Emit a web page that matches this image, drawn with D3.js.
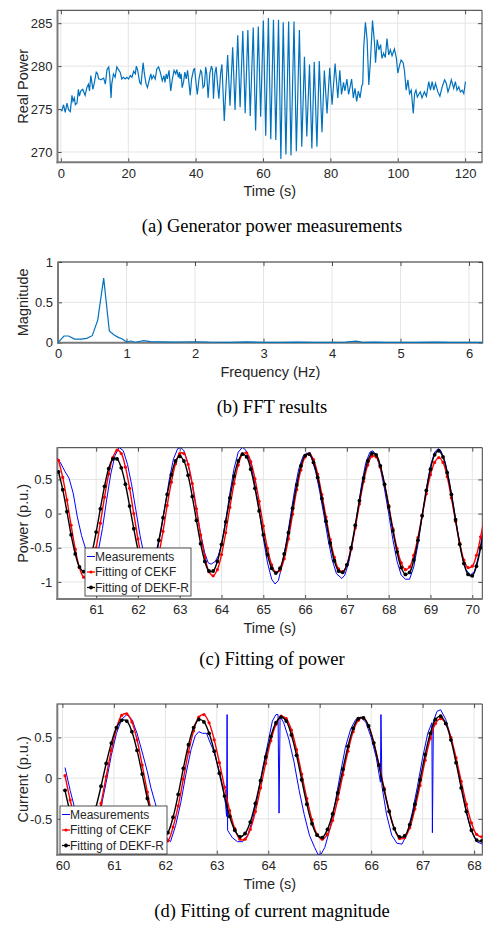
<!DOCTYPE html>
<html>
<head>
<meta charset="utf-8">
<script src="https://cdn.jsdelivr.net/npm/d3@7"></script>
<style>
  body { margin: 0; background: #fff; }
  svg text { font-family: "Liberation Sans", Arial, Helvetica, sans-serif; fill: #262626; }
  svg text.caption { font-family: "Liberation Serif", "Times New Roman", serif; fill: #000; }
</style>
</head>
<body>
<svg id="fig" width="488" height="931"></svg>
<script>
// (a) generator real power, [time s, MW]
const realPower = [
  [0.0,274.9],[0.3,274.8],[0.8,275.5],[1.3,274.6],[1.8,275.7],[2.3,274.9],[2.8,274.7],[3.3,276.6],[3.6,275.9],[4.0,276.3],
  [4.3,275.5],[4.8,275.7],[5.2,277.3],[5.5,276.5],[5.9,277.1],[6.5,277.3],[6.9,276.9],[7.2,276.6],[7.7,277.5],[8.2,277.9],
  [8.5,277.1],[8.9,278.9],[9.2,278.1],[9.5,277.3],[9.9,278.0],[10.5,279.3],[10.9,279.1],[11.2,278.5],[11.5,278.5],[11.9,278.4],
  [12.2,278.5],[12.7,278.6],[13.2,277.9],[13.7,279.6],[14.2,279.9],[14.5,278.9],[14.9,276.3],[15.1,277.9],[15.6,279.1],[16.1,278.7],
  [16.6,279.9],[17.1,279.6],[17.6,279.3],[18.1,278.5],[18.6,278.7],[19.1,278.5],[19.6,278.7],[20.1,278.5],[20.6,278.9],[21.1,278.7],
  [21.6,279.4],[22.1,279.1],[22.4,280.0],[22.8,279.5],[23.4,278.1],[23.8,277.9],[24.4,280.4],[24.8,279.1],[25.3,277.9],[25.7,277.5],
  [26.3,278.5],[26.7,279.1],[27.0,278.5],[27.5,278.9],[28.0,278.5],[28.5,279.7],[29.0,279.9],[29.5,279.3],[30.1,278.3],[30.6,278.9],
  [30.9,278.1],[31.3,279.1],[31.6,278.5],[32.1,279.5],[32.6,277.1],[33.1,278.5],[33.6,279.5],[34.1,279.1],[34.4,279.6],[34.9,278.7],
  [35.2,279.3],[35.4,278.5],[35.7,279.1],[36.0,277.5],[36.4,278.1],[36.8,279.3],[37.2,278.5],[37.6,279.5],[38.0,278.1],[38.4,276.6],
  [38.8,278.5],[39.4,279.6],[39.7,279.7],[40.1,278.1],[40.5,276.7],[41.0,278.5],[41.5,279.5],[41.8,279.3],[42.2,277.5],[42.6,277.7],
  [43.0,279.9],[43.3,279.1],[43.7,276.3],[44.2,279.1],[44.7,280.0],[45.0,279.6],[45.3,276.2],[45.7,279.1],[46.1,279.9],[46.5,277.9],
  [46.9,276.2],[47.4,279.1],[47.8,280.2],[48.5,273.6],[49.5,281.3],[50.2,275.4],[51.0,282.2],[51.7,274.9],[52.5,283.6],[53.2,275.2],
  [54.0,284.1],[54.7,274.5],[55.5,284.2],[56.2,274.2],[57.1,284.5],[57.8,272.5],[58.6,284.6],[59.3,274.1],[60.1,285.3],[60.8,271.9],
  [61.6,285.6],[62.3,271.5],[63.1,285.4],[63.8,271.4],[64.6,285.4],[65.3,269.2],[66.0,285.1],[66.8,269.7],[67.6,285.2],[68.3,269.6],
  [69.2,285.2],[69.9,270.1],[70.8,284.2],[71.5,270.6],[72.3,281.1],[73.0,271.8],[73.8,280.2],[74.5,270.4],[75.2,280.5],[76.0,270.6],
  [76.7,280.6],[77.5,272.3],[78.2,279.5],[79.0,274.5],[79.8,279.8],[80.5,275.5],[81.4,280.3],[82.2,276.3],[82.8,279.5],[83.3,276.7],
  [83.9,278.1],[84.3,277.1],[84.9,278.5],[85.4,276.7],[85.8,277.5],[86.3,278.5],[86.8,276.3],[87.3,277.4],[87.8,275.9],[88.3,277.1],
  [88.8,276.3],[89.3,277.7],[89.6,277.9],[89.9,282.2],[90.4,285.1],[90.9,283.1],[91.4,277.8],[91.9,280.7],[92.5,285.3],[93.1,282.7],
  [93.4,280.4],[93.9,283.1],[94.4,281.9],[94.9,282.5],[95.3,280.9],[95.8,281.5],[96.3,281.0],[96.8,283.2],[97.3,281.3],[97.8,281.9],
  [98.3,281.2],[99.0,282.0],[99.6,280.9],[100.0,279.2],[100.6,280.2],[101.0,280.7],[101.6,280.4],[102.0,279.4],[102.5,277.2],[103.0,278.4],
  [103.5,276.8],[104.0,277.2],[104.6,274.5],[105.0,276.8],[105.4,277.2],[105.8,276.4],[106.2,276.7],[106.7,277.0],[107.2,276.3],[107.9,277.0],
  [108.5,276.5],[109.2,278.2],[109.7,277.2],[110.2,278.2],[110.7,277.2],[111.2,278.0],[111.9,277.0],[112.5,276.5],[113.2,277.6],[113.9,278.4],
  [114.4,278.0],[114.9,277.0],[115.4,277.6],[115.9,278.4],[116.6,277.4],[117.1,278.2],[117.6,277.2],[118.1,277.6],[118.6,277.0],[119.1,277.2],
  [119.6,276.8],[120.1,278.2]
];

// (b) FFT magnitude, [Hz, magnitude]
const fftMag = [
  [0,0],[0.087,0.083],[0.155,0.083],[0.242,0.045],[0.338,0.045],[0.42,0.054],[0.5,0.087],[0.58,0.28],[0.667,0.8],[0.749,0.145],
  [0.82,0.095],[0.88,0.066],[0.94,0.046],[1.0,0.008],[1.06,0.021],[1.13,0.006],[1.25,0.025],[1.35,0.014],[1.5,0.01],[1.7,0.006],
  [2.0,0.012],[2.2,0.006],[2.5,0.005],[2.75,0.01],[3.0,0.004],[3.25,0.005],[3.5,0.007],[3.75,0.004],[4.0,0.004],[4.2,0.006],
  [4.35,0.02],[4.45,0.005],[4.6,0.008],[4.8,0.004],[5.0,0.003],[5.25,0.004],[5.5,0.008],[5.75,0.003],[6.0,0.003],[6.2,0.003]
];

// (c) power fitting, p.u. Fitted series sampled every fitStep s from powerStart
const fitStep = 0.1;
const powerStart = 60.1;
const cekfPower = [
  0.78,0.53,0.20,-0.17,-0.52,-0.79,-0.93,-0.93,-0.78,-0.50,-0.14,0.24,0.58,0.82,0.93,0.88,0.68,0.37,0.00,-0.37,
  -0.68,-0.88,-0.93,-0.82,-0.59,-0.26,0.12,0.46,0.73,0.88,0.88,0.72,0.44,0.07,-0.31,-0.63,-0.85,-0.91,-0.82,-0.60,
  -0.28,0.09,0.44,0.71,0.87,0.89,0.76,0.51,0.18,-0.18,-0.51,-0.75,-0.86,-0.83,-0.66,-0.37,-0.01,0.35,0.64,0.83,
  0.88,0.79,0.58,0.28,-0.05,-0.38,-0.64,-0.81,-0.85,-0.75,-0.52,-0.21,0.14,0.47,0.71,0.84,0.83,0.68,0.43,0.12,
  -0.22,-0.51,-0.72,-0.82,-0.78,-0.61,-0.35,-0.03,0.29,0.57,0.75,0.82,0.75,0.54,0.23,-0.11,-0.43,-0.68,-0.79,-0.77,
  -0.61,-0.34,-0.02
];
const dekfPower = [
  0.61,0.35,0.03,-0.31,-0.59,-0.78,-0.85,-0.78,-0.57,-0.27,0.07,0.40,0.66,0.80,0.80,0.67,0.43,0.11,-0.22,-0.53,
  -0.75,-0.85,-0.83,-0.66,-0.39,-0.06,0.28,0.57,0.77,0.84,0.77,0.56,0.25,-0.10,-0.44,-0.70,-0.84,-0.84,-0.70,-0.45,
  -0.12,0.23,0.55,0.77,0.87,0.83,0.65,0.37,0.04,-0.31,-0.60,-0.80,-0.87,-0.80,-0.59,-0.28,0.08,0.42,0.70,0.85,
  0.87,0.75,0.53,0.22,-0.11,-0.43,-0.69,-0.84,-0.86,-0.75,-0.50,-0.17,0.19,0.52,0.77,0.88,0.86,0.70,0.43,0.10,
  -0.25,-0.56,-0.79,-0.89,-0.86,-0.68,-0.39,-0.03,0.34,0.65,0.86,0.92,0.83,0.60,0.28,-0.09,-0.45,-0.73,-0.89,-0.91,
  -0.77,-0.50,-0.15
];
const measPower = [
  [60.07,0.81],[60.15,0.74],[60.25,0.62],[60.35,0.52],[60.45,0.30],[60.55,-0.05],[60.65,-0.32],[60.75,-0.52],[60.85,-0.63],[60.95,-0.68],
  [61.05,-0.55],[61.15,-0.22],[61.25,0.20],[61.35,0.58],[61.45,0.85],[61.55,0.97],[61.65,0.92],[61.75,0.72],[61.85,0.42],[61.95,0.05],
  [62.05,-0.32],[62.15,-0.62],[62.25,-0.78],[62.35,-0.76],[62.45,-0.58],[62.55,-0.26],[62.65,0.12],[62.75,0.50],[62.85,0.80],[62.95,0.95],
  [63.02,0.97],[63.1,0.92],[63.2,0.72],[63.3,0.42],[63.4,0.05],[63.5,-0.30],[63.6,-0.58],[63.68,-0.72],[63.75,-0.74],[63.85,-0.70],
  [63.92,-0.62],[64.0,-0.45],[64.1,-0.10],[64.2,0.30],[64.3,0.66],[64.4,0.90],[64.5,0.97],[64.58,0.93],[64.7,0.72],[64.8,0.42],
  [64.9,0.05],[65.0,-0.36],[65.1,-0.72],[65.2,-0.96],[65.28,-1.03],[65.36,-0.98],[65.45,-0.75],[65.55,-0.42],[65.65,-0.04],[65.75,0.35],
  [65.85,0.66],[65.95,0.84],[66.05,0.89],[66.15,0.82],[66.25,0.62],[66.35,0.32],[66.45,-0.02],[66.55,-0.38],[66.65,-0.68],[66.75,-0.88],
  [66.88,-0.95],[66.95,-0.90],[67.05,-0.70],[67.15,-0.38],[67.25,0.02],[67.35,0.42],[67.45,0.74],[67.55,0.90],[67.62,0.92],[67.7,0.86],
  [67.8,0.66],[67.9,0.36],[68.0,0.0],[68.1,-0.38],[68.2,-0.70],[68.3,-0.90],[68.4,-0.96],[68.5,-0.96],[68.6,-0.78],[68.7,-0.45],
  [68.8,-0.05],[68.9,0.36],[69.0,0.70],[69.1,0.90],[69.18,0.95],[69.25,0.92],[69.35,0.76],[69.45,0.48],[69.55,0.12],[69.65,-0.26],
  [69.75,-0.60],[69.85,-0.82],[69.95,-0.90],[70.05,-0.85],[70.15,-0.62],[70.25,-0.30]
];

// (d) current magnitude fitting, p.u.
const currentStart = 60.05;
const cekfCurrent = [
  0.03,-0.27,-0.53,-0.72,-0.80,-0.76,-0.58,-0.31,0.02,0.34,0.61,0.77,0.79,0.69,0.47,0.16,-0.17,-0.47,-0.69,-0.79,
  -0.77,-0.60,-0.34,-0.01,0.32,0.58,0.75,0.78,0.68,0.47,0.19,-0.11,-0.40,-0.62,-0.75,-0.75,-0.63,-0.41,-0.12,0.18,
  0.46,0.66,0.76,0.73,0.59,0.35,0.05,-0.25,-0.51,-0.69,-0.75,-0.69,-0.52,-0.26,0.04,0.33,0.57,0.71,0.74,0.64,
  0.44,0.17,-0.12,-0.40,-0.62,-0.74,-0.73,-0.61,-0.38,-0.09,0.22,0.49,0.67,0.73,0.67,0.50,0.25,-0.04,-0.32,-0.55,
  -0.69,-0.72,-0.66
];
const dekfCurrent = [
  -0.15,-0.42,-0.62,-0.71,-0.69,-0.57,-0.36,-0.10,0.18,0.43,0.62,0.71,0.70,0.57,0.34,0.05,-0.25,-0.50,-0.68,-0.74,
  -0.67,-0.48,-0.20,0.12,0.41,0.62,0.72,0.69,0.55,0.33,0.06,-0.22,-0.47,-0.64,-0.72,-0.68,-0.54,-0.31,-0.03,0.26,
  0.51,0.68,0.75,0.70,0.53,0.28,-0.02,-0.32,-0.56,-0.70,-0.73,-0.63,-0.44,-0.18,0.11,0.39,0.61,0.73,0.74,0.64,
  0.43,0.16,-0.14,-0.41,-0.62,-0.72,-0.71,-0.57,-0.32,-0.02,0.29,0.55,0.72,0.76,0.67,0.47,0.19,-0.12,-0.41,-0.64,
  -0.76,-0.77,-0.65
];
const measCurrent = [
  [60.05,0.13],[60.15,-0.15],[60.25,-0.40],[60.35,-0.62],[60.45,-0.78],[60.55,-0.78],[60.65,-0.62],[60.75,-0.36],[60.85,-0.05],[60.95,0.28],
  [61.05,0.55],[61.15,0.72],[61.25,0.78],[61.35,0.72],[61.45,0.55],[61.55,0.32],[61.65,0.08],[61.72,-0.12],[61.8,-0.30],[61.9,-0.52],
  [62.0,-0.72],[62.1,-0.78],[62.2,-0.58],[62.3,-0.30],[62.4,0.05],[62.5,0.35],[62.58,0.52],[62.65,0.57],[62.72,0.55],[62.8,0.55],
  [62.88,0.42],[62.95,0.32],[63.0,0.20],[63.08,0.0],[63.13,-0.15],[63.17,-0.32],[63.19,-0.47],[63.2,0.78],[63.21,-0.64],[63.3,-0.73],
  [63.4,-0.78],[63.5,-0.78],[63.6,-0.70],[63.7,-0.50],[63.8,-0.20],[63.9,0.15],[64.0,0.45],[64.08,0.70],[64.15,0.78],[64.19,0.78],
  [64.21,-0.43],[64.23,0.76],[64.3,0.68],[64.4,0.48],[64.5,0.20],[64.6,-0.15],[64.7,-0.45],[64.8,-0.70],[64.9,-0.85],[64.97,-0.94],
  [65.03,-0.93],[65.1,-0.85],[65.2,-0.62],[65.3,-0.30],[65.4,0.05],[65.5,0.38],[65.6,0.60],[65.7,0.72],[65.8,0.75],[65.9,0.68],
  [66.0,0.50],[66.1,0.25],[66.18,-0.05],[66.19,0.78],[66.21,-0.10],[66.3,-0.45],[66.4,-0.70],[66.5,-0.80],[66.6,-0.81],[66.7,-0.68],
  [66.8,-0.42],[66.9,-0.10],[67.0,0.25],[67.1,0.55],[67.18,0.68],[67.19,-0.67],[67.21,0.70],[67.28,0.82],[67.35,0.84],[67.45,0.72],
  [67.55,0.50],[67.65,0.22],[67.75,-0.10],[67.85,-0.42],[67.95,-0.65],[68.05,-0.78],[68.16,-0.81]
];

const legendNames = ["Measurements", "Fitting of CEKF", "Fitting of DEKF-R"];

const svg = d3.select("#fig");
const fmt = d => String(d);

function makeAxes(o) {
  const x = d3.scaleLinear().domain(o.xDomain).range([o.left, o.right]);
  const y = d3.scaleLinear().domain(o.yDomain).range([o.bottom, o.top]);
  const g = svg.append("g");

  // grid
  g.append("g").selectAll("line").data(o.xTicks).join("line")
    .attr("x1", d => x(d)).attr("x2", d => x(d))
    .attr("y1", o.top).attr("y2", o.bottom)
    .attr("stroke", "#e4e4e4").attr("stroke-width", 1);
  g.append("g").selectAll("line").data(o.yTicks).join("line")
    .attr("x1", o.left).attr("x2", o.right)
    .attr("y1", d => y(d)).attr("y2", d => y(d))
    .attr("stroke", "#e4e4e4").attr("stroke-width", 1);

  // ticks on all four sides, pointing in
  const axes = [
    [d3.axisBottom(x).tickValues(o.xTicks).tickFormat(fmt), `translate(0,${o.bottom})`],
    [d3.axisTop(x).tickValues(o.xTicks).tickFormat(""), `translate(0,${o.top})`],
    [d3.axisLeft(y).tickValues(o.yTicks).tickFormat(fmt), `translate(${o.left},0)`],
    [d3.axisRight(y).tickValues(o.yTicks).tickFormat(""), `translate(${o.right},0)`]
  ];
  axes.forEach(([ax, tr], i) => {
    const a = g.append("g").attr("transform", tr)
      .call(ax.tickSizeInner(-4).tickSizeOuter(0).tickPadding(i === 0 ? 6 : 5));
    a.select(".domain").remove();
    a.selectAll(".tick line").attr("stroke", "#262626").attr("stroke-width", 0.8);
    a.selectAll(".tick text").attr("font-size", 13).attr("fill", "#262626")
      .attr("font-family", '"Liberation Sans", Arial, sans-serif');
  });

  // box
  g.append("line").attr("x1", o.left).attr("x2", o.right).attr("y1", o.top).attr("y2", o.top)
    .attr("stroke", "#333").attr("stroke-width", 1);
  g.append("line").attr("x1", o.right).attr("x2", o.right).attr("y1", o.top).attr("y2", o.bottom)
    .attr("stroke", "#444").attr("stroke-width", 1);
  g.append("line").attr("x1", o.left).attr("x2", o.left).attr("y1", o.top - 0.5).attr("y2", o.bottom + 1)
    .attr("stroke", "#7a7a7a").attr("stroke-width", 2);
  g.append("line").attr("x1", o.left - 1).attr("x2", o.right + 0.5).attr("y1", o.bottom).attr("y2", o.bottom)
    .attr("stroke", "#7a7a7a").attr("stroke-width", 2);

  // labels
  g.append("text").attr("x", (o.left + o.right) / 2).attr("y", o.bottom + 34)
    .attr("text-anchor", "middle").attr("font-size", 14.5).text(o.xLabel);
  g.append("text")
    .attr("transform", `translate(28,${(o.top + o.bottom) / 2}) rotate(-90)`)
    .attr("text-anchor", "middle").attr("font-size", 14.5).text(o.yLabel);
  svg.append("text").attr("class", "caption").attr("x", 272).attr("y", o.caption[1])
    .attr("text-anchor", "middle").attr("font-size", 18.5).text(o.caption[0]);

  const clipId = "clip-" + o.name;
  svg.append("clipPath").attr("id", clipId).append("rect")
    .attr("x", o.left).attr("y", o.top - (o.pad || 0))
    .attr("width", o.right - o.left).attr("height", o.bottom - o.top + 2 * (o.pad || 0));
  const plot = svg.append("g").attr("clip-path", `url(#${clipId})`);
  return { x, y, plot };
}

function legend(o, x0, y0, w, h) {
  const g = svg.append("g").attr("transform", `translate(${x0},${y0})`);
  g.append("rect").attr("width", w).attr("height", h)
    .attr("fill", "#fff").attr("stroke", "#262626").attr("stroke-width", 0.8);
  const styles = [
    { c: "#0000ff", r: 0 },
    { c: "#ff0000", r: 1.6 },
    { c: "#000000", r: 1.9 }
  ];
  legendNames.forEach((name, i) => {
    const cy = 8.5 + i * 15.5;
    g.append("line").attr("x1", 2).attr("x2", 10).attr("y1", cy).attr("y2", cy)
      .attr("stroke", styles[i].c).attr("stroke-width", i ? 1.3 : 1);
    if (styles[i].r) g.append("circle").attr("cx", 6).attr("cy", cy).attr("r", styles[i].r).attr("fill", styles[i].c);
    g.append("text").attr("x", 10).attr("y", cy + 4.3).attr("font-size", 12).attr("fill", "#000").text(name);
  });
}

function drawFit(ax, meas, cekf, dekf, t0) {
  const line = d3.line().x(d => ax.x(d[0])).y(d => ax.y(d[1]));
  const cekfPts = cekf.map((v, i) => [t0 + i * fitStep, v]);
  const dekfPts = dekf.map((v, i) => [t0 + i * fitStep, v]);
  ax.plot.append("path").datum(meas).attr("d", line)
    .attr("fill", "none").attr("stroke", "#0000ff").attr("stroke-width", 1);
  ax.plot.append("path").datum(cekfPts).attr("d", line.curve(d3.curveCatmullRom))
    .attr("fill", "none").attr("stroke", "#ff0000").attr("stroke-width", 1.4);
  ax.plot.append("g").selectAll("circle").data(cekfPts).join("circle")
    .attr("cx", d => ax.x(d[0])).attr("cy", d => ax.y(d[1])).attr("r", 1.6).attr("fill", "#ff0000");
  ax.plot.append("path").datum(dekfPts).attr("d", line.curve(d3.curveCatmullRom))
    .attr("fill", "none").attr("stroke", "#000").attr("stroke-width", 1.4);
  ax.plot.append("g").selectAll("circle").data(dekfPts).join("circle")
    .attr("cx", d => ax.x(d[0])).attr("cy", d => ax.y(d[1])).attr("r", 1.9).attr("fill", "#000");
}

// (a)
const axA = makeAxes({
  name: "a", left: 57.5, right: 482, top: 10.3, bottom: 162.3,
  xDomain: [-1, 125], yDomain: [268.8, 286.5],
  xTicks: [0, 20, 40, 60, 80, 100, 120], yTicks: [270, 275, 280, 285],
  xLabel: "Time (s)", yLabel: "Real Power",
  caption: ["(a)  Generator power measurements", 232]
});
axA.plot.append("path").datum(realPower)
  .attr("d", d3.line().x(d => axA.x(d[0])).y(d => axA.y(d[1])))
  .attr("fill", "none").attr("stroke", "#0072bd").attr("stroke-width", 1.2);

// (b)
const axB = makeAxes({
  name: "b", left: 58, right: 482.7, top: 262, bottom: 342.7, pad: 2,
  xDomain: [0, 6.2], yDomain: [0, 1],
  xTicks: [0, 1, 2, 3, 4, 5, 6], yTicks: [0, 0.5, 1],
  xLabel: "Frequency (Hz)", yLabel: "Magnitude",
  caption: ["(b)  FFT results", 413]
});
axB.plot.append("path").datum(fftMag)
  .attr("d", d3.line().x(d => axB.x(d[0])).y(d => axB.y(d[1])))
  .attr("fill", "none").attr("stroke", "#0072bd").attr("stroke-width", 1.2);

// (c)
const axC = makeAxes({
  name: "c", left: 57.3, right: 482.3, top: 447.7, bottom: 599,
  xDomain: [60.07, 70.24], yDomain: [-1.25, 0.965],
  xTicks: [61, 62, 63, 64, 65, 66, 67, 68, 69, 70], yTicks: [-1, -0.5, 0, 0.5],
  xLabel: "Time (s)", yLabel: "Power (p.u.)",
  caption: ["(c)  Fitting of power", 665]
});
drawFit(axC, measPower, cekfPower, dekfPower, powerStart);
legend(axC, 85, 548, 106, 48);

// (d)
const axD = makeAxes({
  name: "d", left: 57.3, right: 482.3, top: 704, bottom: 854.7,
  xDomain: [59.9, 68.16], yDomain: [-0.94, 0.91],
  xTicks: [60, 61, 62, 63, 64, 65, 66, 67, 68], yTicks: [-0.5, 0, 0.5],
  xLabel: "Time (s)", yLabel: "Current (p.u.)",
  caption: ["(d)  Fitting of current magnitude", 917]
});
drawFit(axD, measCurrent, cekfCurrent, dekfCurrent, currentStart);
legend(axD, 60, 806, 107, 48);
</script>
</body>
</html>
